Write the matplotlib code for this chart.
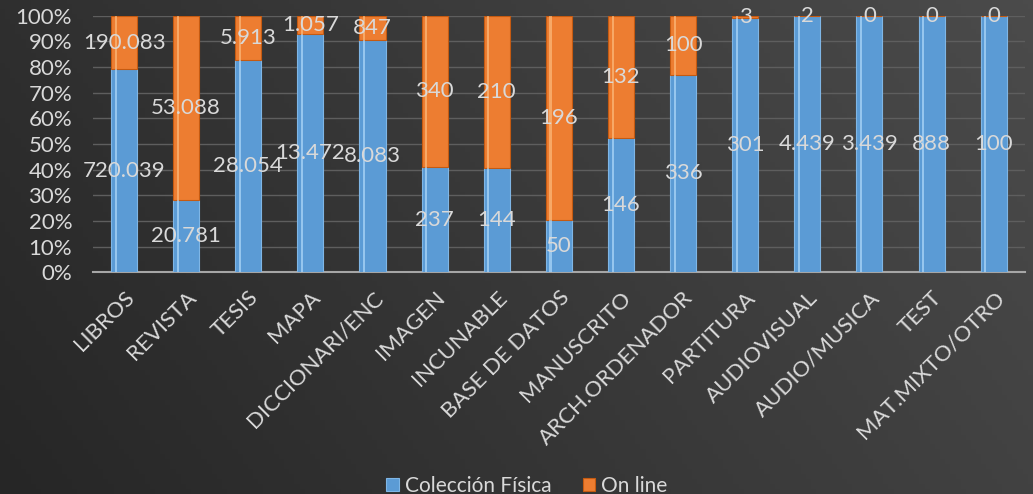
import numpy as np
import matplotlib.pyplot as plt
from matplotlib.colors import LinearSegmentedColormap

categorias = ["LIBROS", "REVISTA", "TESIS", "MAPA", "DICCIONARI/ENC", "IMAGEN",
              "INCUNABLE", "BASE DE DATOS", "MANUSCRITO", "ARCH.ORDENADOR",
              "PARTITURA", "AUDIOVISUAL", "AUDIO/MUSICA", "TEST", "MAT.MIXTO/OTRO"]
fisica = [720039, 20781, 28054, 13472, 8083, 237, 144, 50, 146, 336, 301, 4439, 3439, 888, 100]
online = [190083, 53088, 5913, 1057, 847, 340, 210, 196, 132, 100, 3, 2, 0, 0, 0]
ticks_y = [0, 10, 20, 30, 40, 50, 60, 70, 80, 90, 100]

plt.rcParams["font.family"] = ["Lato", "DejaVu Sans"]
txt = "#d9d9d9"
azul = "#5b9bd5"
naranja = "#ed7d31"

fisica = np.array(fisica, dtype=float)
online = np.array(online, dtype=float)
total = fisica + online
pf = fisica / total * 100
po = online / total * 100

fig = plt.figure(figsize=(10.33, 4.94), dpi=100)

# fondo degradado
bg = fig.add_axes([0, 0, 1, 1], zorder=-10)
gx, gy = np.meshgrid(np.linspace(0, 1, 200), np.linspace(0, 1, 100))
grad = 0.75 * gx + 0.25 * (1 - gy)
cmap = LinearSegmentedColormap.from_list("bg", ["#262626", "#4b4b4b"])
bg.imshow(grad, cmap=cmap, aspect="auto", extent=[0, 1, 0, 1])
bg.axis("off")

ax = fig.add_axes([0.09, 0.449, 0.902, 0.519])
ax.set_facecolor("none")

x = np.arange(len(categorias))
w = 0.42
b1 = ax.bar(x, pf, w, color=azul, edgecolor="#7fb6e6", linewidth=0.8, zorder=3, label="Colección Física")
b2 = ax.bar(x, po, w, bottom=pf, color=naranja, edgecolor="#c55a11", linewidth=0.8, zorder=3, label="On line")
# brillo lateral
ax.bar(x - w * 0.32, pf, w * 0.08, color="#bfe3ff", alpha=0.6, linewidth=0, zorder=4)
ax.bar(x - w * 0.32, po, w * 0.08, bottom=pf, color="#ffc58a", alpha=0.6, linewidth=0, zorder=4)

fmt = lambda v: f"{int(v):,}".replace(",", ".")
ax.bar_label(b1, labels=[fmt(v) for v in fisica], label_type="center", color=txt, fontsize=16, zorder=6)
ax.bar_label(b2, labels=[fmt(v) for v in online], label_type="center", color=txt, fontsize=16, zorder=6)

ax.set_xlim(-0.5, len(categorias) - 0.5)
ax.set_ylim(0, 100)
ax.set_yticks(ticks_y)
ax.set_yticklabels([f"{t}%" for t in ticks_y], color=txt, fontsize=16)
ax.tick_params(axis="y", length=0, pad=15)
ax.set_xticks(x)
ax.set_xticklabels(categorias, rotation=45, ha="right", rotation_mode="anchor", color=txt, fontsize=16)
ax.tick_params(axis="x", length=0, pad=11)
ax.yaxis.grid(True, color="#5e5e5e", linewidth=1, zorder=0)
for s in ["top", "right", "left"]:
    ax.spines[s].set_visible(False)
ax.spines["bottom"].set_color("#a6a6a6")
ax.spines["bottom"].set_linewidth(1.5)

leg = fig.legend(handles=[b1, b2], loc="lower center", bbox_to_anchor=(0.51, -0.042), ncol=2,
                 frameon=False, fontsize=15, handlelength=0.6, handleheight=0.6,
                 handletextpad=0.3, columnspacing=1.5)
for t in leg.get_texts():
    t.set_color(txt)

plt.savefig("out.png", dpi=100)
plt.close()
